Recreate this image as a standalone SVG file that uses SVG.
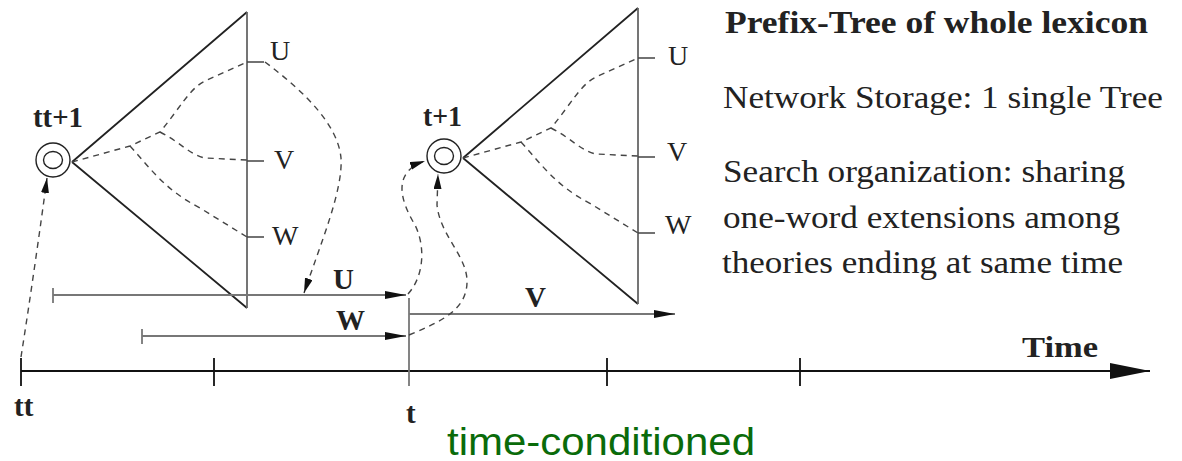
<svg xmlns="http://www.w3.org/2000/svg" width="1182" height="461" viewBox="0 0 1182 461">
<style>
.bg{fill:#ffffff}
.side{fill:none;stroke:#222;stroke-width:1.8}
.vert{fill:none;stroke:#666;stroke-width:1.8}
.tick{fill:none;stroke:#444;stroke-width:1.6}
.dash{fill:none;stroke:#444;stroke-width:1.4;stroke-dasharray:6 5}
.ring{fill:none;stroke:#222;stroke-width:1.4}
.gline{fill:none;stroke:#777;stroke-width:1.8}
.axis{fill:none;stroke:#111;stroke-width:1.8}
.lbl{font-family:"Liberation Serif","Times New Roman",serif;font-size:28px;fill:#222}
.blbl{font-family:"Liberation Serif","Times New Roman",serif;font-size:29px;font-weight:bold;fill:#222}
.txt{font-family:"Liberation Serif","Times New Roman",serif;font-size:32px;fill:#222}
.green{font-family:"Liberation Sans",Arial,sans-serif;font-size:38px;fill:#0a6b0a}
</style>
<defs>
<marker id="arr" markerUnits="userSpaceOnUse" markerWidth="22" markerHeight="10" refX="21" refY="4" orient="auto">
<path d="M0,0 L21,4 L0,8 z" fill="#111"/>
</marker>
<marker id="darr" markerUnits="userSpaceOnUse" markerWidth="16" markerHeight="10" refX="15" refY="4" orient="auto">
<path d="M0,0 L15,4 L0,8 z" fill="#111"/>
</marker>
<marker id="bigarr" markerUnits="userSpaceOnUse" markerWidth="42" markerHeight="18" refX="40" refY="8" orient="auto">
<path d="M0,0 L40,8 L0,16 z" fill="#111"/>
</marker>
<g id="treeShape">
<path class="side" d="M72,162 L247,12 M72,162 L247,308"/>
<path class="vert" d="M247,12 V308"/>
<path class="tick" d="M247,62 H264 M247,161 H264 M247,237 H264"/>
<path class="dash" d="M72,162 L130,146 L160,132 C180,108 190,88 205,81 L247,62 M160,132 C180,142 190,155 205,158 L247,160 M130,146 C150,168 165,190 200,208 L247,237"/>
<circle class="ring" cx="53" cy="160" r="17"/>
<ellipse class="ring" cx="53" cy="160" rx="9.5" ry="8.5"/>
</g>
</defs>
<rect class="bg" x="0" y="0" width="1182" height="461"/>

<g id="tree-left">
<use href="#treeShape"/>
<text class="blbl" x="33" y="127" textLength="50" lengthAdjust="spacingAndGlyphs">tt+1</text>
<text class="lbl" x="270" y="60">U</text>
<text class="lbl" x="274" y="169">V</text>
<text class="lbl" x="272" y="245">W</text>
</g>

<g id="tree-right">
<use href="#treeShape" transform="translate(391,-4)"/>
<text class="blbl" x="423" y="126" textLength="39" lengthAdjust="spacingAndGlyphs">t+1</text>
<text class="lbl" x="668" y="65">U</text>
<text class="lbl" x="667" y="161">V</text>
<text class="lbl" x="665" y="234">W</text>
</g>

<g id="description">
<text class="txt" x="725" y="33" font-weight="bold" font-size="30" textLength="423" lengthAdjust="spacingAndGlyphs">Prefix-Tree of whole lexicon</text>
<text class="txt" x="723" y="108" textLength="440" lengthAdjust="spacingAndGlyphs">Network Storage: 1 single Tree</text>
<text class="txt" x="723" y="182" textLength="402" lengthAdjust="spacingAndGlyphs">Search organization: sharing</text>
<text class="txt" x="723" y="228" textLength="397" lengthAdjust="spacingAndGlyphs">one-word extensions among</text>
<text class="txt" x="722" y="273" textLength="401" lengthAdjust="spacingAndGlyphs">theories ending at same time</text>
</g>

<g id="time-axis">
<path class="axis" d="M21,371 H1150" marker-end="url(#bigarr)"/>
<path class="axis" d="M21,358 V386 M214,358 V386 M607,358 V386 M800,358 V386"/>
<path class="gline" d="M409,298 V386"/>
<text class="blbl" x="1022" y="357" font-size="32" textLength="76" lengthAdjust="spacingAndGlyphs">Time</text>
<text class="blbl" x="14" y="416">tt</text>
<text class="blbl" x="406" y="423">t</text>
<text class="green" x="447" y="455" textLength="308" lengthAdjust="spacingAndGlyphs">time-conditioned</text>
</g>

<g id="connectors">
<path class="gline" d="M53,295 H406" marker-end="url(#arr)"/>
<path class="gline" d="M53,288 V303"/>
<path class="gline" d="M142,336 H406" marker-end="url(#arr)"/>
<path class="gline" d="M142,329 V344"/>
<path class="gline" d="M409,314 H675" marker-end="url(#arr)"/>
<text class="blbl" x="333" y="289">U</text>
<text class="blbl" x="336" y="330">W</text>
<text class="blbl" x="525" y="307">V</text>
<path class="dash" d="M265,62 C305,92 338,125 341,158 C343,190 322,240 304,293" marker-end="url(#darr)"/>
<path class="dash" d="M21,357 C30,300 40,230 47,178" marker-end="url(#darr)"/>
<path class="dash" d="M408,294 C425,275 425,245 415,225 C400,200 392,172 425,161" marker-end="url(#darr)"/>
<path class="dash" d="M409,335 C440,322 468,310 467,280 C466,255 440,235 437,205 L438,174" marker-end="url(#darr)"/>
</g>
</svg>
